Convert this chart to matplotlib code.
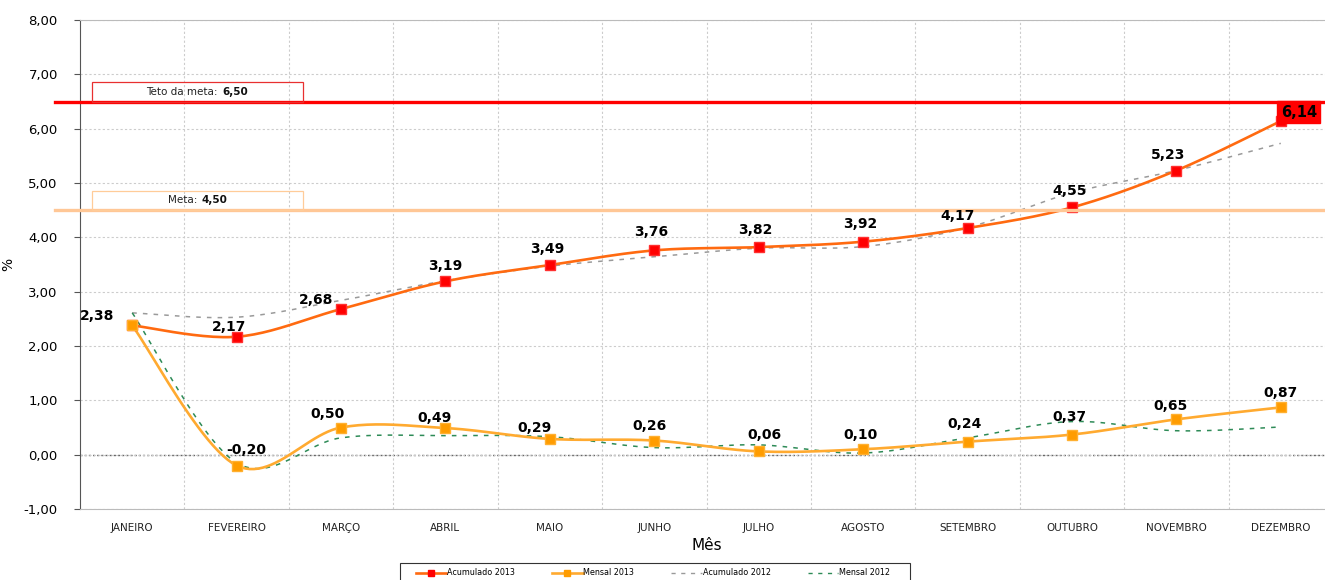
import matplotlib
matplotlib.use("Agg")
import matplotlib.pyplot as plt
from matplotlib.lines import Line2D
from matplotlib.patches import Rectangle
from matplotlib.ticker import FuncFormatter, MultipleLocator, FixedLocator
import numpy as np

meses = ["JANEIRO", "FEVEREIRO", "MARÇO", "ABRIL", "MAIO", "JUNHO", "JULHO",
         "AGOSTO", "SETEMBRO", "OUTUBRO", "NOVEMBRO", "DEZEMBRO"]
acumulado_2013 = [2.38, 2.17, 2.68, 3.19, 3.49, 3.76, 3.82, 3.92, 4.17, 4.55, 5.23, 6.14]
mensal_2013 = [2.38, -0.20, 0.50, 0.49, 0.29, 0.26, 0.06, 0.10, 0.24, 0.37, 0.65, 0.87]
acumulado_2012 = [2.61, 2.53, 2.84, 3.20, 3.47, 3.64, 3.80, 3.83, 4.18, 4.82, 5.23, 5.73]
mensal_2012 = [2.61, -0.15, 0.31, 0.35, 0.33, 0.13, 0.18, 0.03, 0.31, 0.61, 0.44, 0.51]
meta = 4.50
teto_meta = 6.50

# label offsets in pixels (dx, dy) relative to the marker
off_acum = [(-35, 9), (-8, 10), (-25, 9), (0, 15), (-3, 16), (-3, 18),
            (-3, 17), (-3, 18), (-10, 12), (-2, 16), (-8, 16), (18, 9)]
off_mens = [None, (10, 16), (-14, 14), (-11, 10), (-15, 11), (-5, 15),
            (6, 16), (-3, 14), (-3, 18), (-3, 18), (-6, 13), (0, 14)]


def smooth(x, y, n=25):
    # excel-like smoothed line (bezier with catmull-rom control points)
    pts = np.column_stack([x, y]).astype(float)
    out = []
    t = np.linspace(0, 1, n)[:, None]
    for i in range(len(pts) - 1):
        p0 = pts[max(i - 1, 0)]
        p1 = pts[i]
        p2 = pts[i + 1]
        p3 = pts[min(i + 2, len(pts) - 1)]
        c1 = p1 + (p2 - p0) / 6
        c2 = p2 - (p3 - p1) / 6
        seg = (1 - t) ** 3 * p1 + 3 * (1 - t) ** 2 * t * c1 + 3 * (1 - t) * t ** 2 * c2 + t ** 3 * p2
        out.append(seg if i == 0 else seg[1:])
    s = np.vstack(out)
    return s[:, 0], s[:, 1]


def fmt(v):
    return f"{v:.2f}".replace(".", ",")


x = np.arange(len(meses))

fig = plt.figure(figsize=(13.25, 5.8), dpi=100)
ax = fig.add_axes([80 / 1325, 1 - 509 / 580, 1253 / 1325, 489 / 580])

# 2012 series
sx, sy = smooth(x, acumulado_2012)
ax.plot(sx, sy, color="#9a9a9a", lw=1.1, dashes=(3, 4), zorder=3)
sx, sy = smooth(x, mensal_2012)
ax.plot(sx, sy, color="#2e8b57", lw=1.1, dashes=(3, 4), zorder=3)

# 2013 series
sx, sy = smooth(x, acumulado_2013)
ax.plot(sx, sy, color="#ff6a10", lw=1.9, zorder=4)
ax.plot(x, acumulado_2013, ls="none", marker="s", ms=6.5, mfc="#ff0000", mec="#ff3030", zorder=5)
sx, sy = smooth(x, mensal_2013)
ax.plot(sx, sy, color="#ffaa30", lw=1.9, zorder=4)
ax.plot(x, mensal_2013, ls="none", marker="s", ms=7, mfc="#ff9c00", mec="#ffb030", zorder=5)

# meta lines, slightly beyond the axis on the left
yt = ax.get_yaxis_transform()
x0 = -25 / 1253
ax.plot([x0, 1], [teto_meta, teto_meta], transform=yt, color="#ff0000", lw=2.4, clip_on=False, zorder=6)
ax.plot([x0, 1], [meta, meta], transform=yt, color="#ffc796", lw=2.4, clip_on=False, zorder=6)

bx0, bx1 = 12 / 1253, 223 / 1253
for val, txt, ec, xc in [(teto_meta, "Teto da meta:", "#e83030", 138 / 1253),
                         (meta, "Meta:", "#ffcc99", 117 / 1253)]:
    ax.add_patch(Rectangle((bx0, val), bx1 - bx0, 0.36, transform=yt, fill=False,
                           ec=ec, lw=0.9, zorder=6))
    ax.text(xc, val + 0.18, txt, transform=yt, ha="right", va="center", fontsize=7.5,
            color="#222222", zorder=7)
    ax.text(xc + 4 / 1253, val + 0.18, fmt(val), transform=yt, ha="left", va="center",
            fontsize=7.5, fontweight="bold", color="#111111", zorder=7)

# data labels
for i, v in enumerate(acumulado_2013):
    dx, dy = off_acum[i]
    if i == len(acumulado_2013) - 1:
        ax.annotate(fmt(v), (x[i], v), xytext=(dx, dy), textcoords="offset pixels",
                    ha="center", va="center", fontsize=10.5, fontweight="bold",
                    bbox=dict(boxstyle="square,pad=0.25", fc="#ff0000", ec="#ff0000"),
                    annotation_clip=False, zorder=8)
    else:
        ax.annotate(fmt(v), (x[i], v), xytext=(dx, dy), textcoords="offset pixels",
                    ha="center", va="center", fontsize=10, fontweight="bold", zorder=8)
for i, v in enumerate(mensal_2013):
    if off_mens[i] is None:
        continue
    dx, dy = off_mens[i]
    ax.annotate(fmt(v), (x[i], v), xytext=(dx, dy), textcoords="offset pixels",
                ha="center", va="center", fontsize=10, fontweight="bold", zorder=8)

# axes
ax.set_xlim(-0.5, 11.5)
ax.set_ylim(-1, 8)
ax.yaxis.set_major_locator(MultipleLocator(1))
ax.yaxis.set_major_formatter(FuncFormatter(lambda v, p: fmt(v)))
ax.set_xticks(x)
ax.set_xticklabels(meses, fontsize=7.5, color="#222222")
ax.xaxis.set_minor_locator(FixedLocator(x[:-1] + 0.5))
ax.tick_params(axis="x", which="both", length=0, pad=10)
ax.tick_params(axis="y", length=4, color="#555555", labelsize=9.5, pad=12)
ax.grid(axis="y", color="#cccccc", ls=(0, (2, 2)), lw=0.8, zorder=0)
ax.grid(axis="x", which="minor", color="#cccccc", ls=(0, (2, 2)), lw=0.8, zorder=0)
ax.axhline(0, color="#666666", ls=(0, (1.5, 1.5)), lw=1, zorder=1)
ax.spines["left"].set_color("#555555")
ax.spines["bottom"].set_color("#bbbbbb")
ax.spines["top"].set_color("#bbbbbb")
ax.spines["right"].set_visible(False)
ax.set_xlabel("Mês", fontsize=11, labelpad=4)
ax.set_ylabel("%", fontsize=10)
ax.yaxis.set_label_coords(-65 / 1253, 0.5)

# legend
handles = [
    Line2D([], [], color="#ff6a10", lw=1.9, marker="s", ms=4, mfc="#ff0000", mec="#ff0000"),
    Line2D([], [], color="#ffaa30", lw=1.9, marker="s", ms=4, mfc="#ff9c00", mec="#ff9c00"),
    Line2D([], [], color="#9a9a9a", lw=1.0, dashes=(3, 4)),
    Line2D([], [], color="#2e8b57", lw=1.0, dashes=(3, 4)),
]
labels = ["Acumulado 2013", "Mensal 2013", "Acumulado 2012", "Mensal 2012"]
fig.legend(handles, labels, loc="upper center", bbox_to_anchor=(653 / 1325, 1 - 562 / 580),
           ncol=4, frameon=False, fontsize=5.8, handlelength=3.8, handletextpad=0.1,
           columnspacing=4.6, borderpad=0.3)
fig.add_artist(Rectangle((400 / 1325, -0.02), 510 / 1325, 0.02 + 1 - 563 / 580,
                         transform=fig.transFigure, fill=False, ec="#333333", lw=0.8))

fig.savefig("out.png", dpi=100)
